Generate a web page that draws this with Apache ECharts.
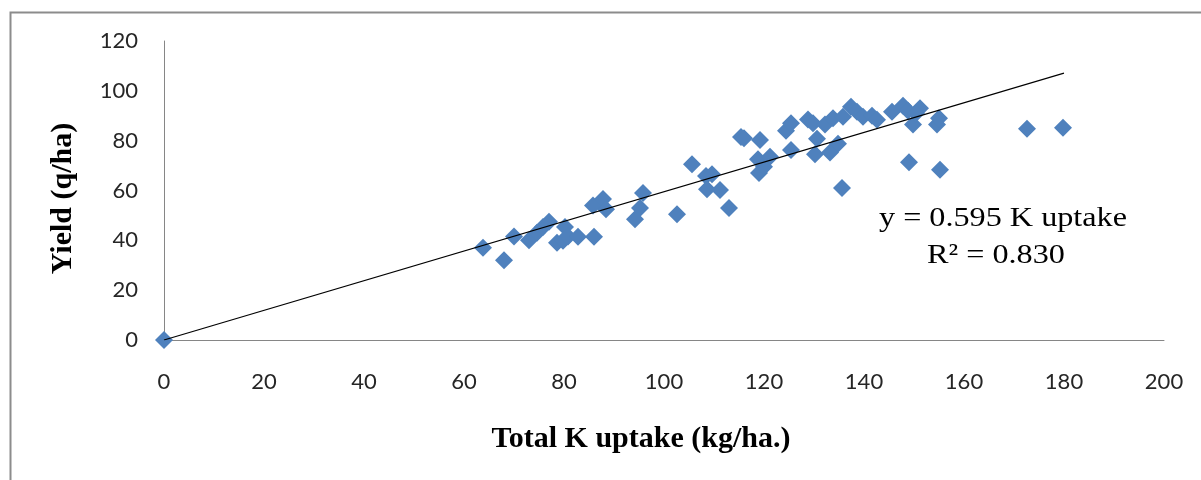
<!DOCTYPE html>
<html>
<head>
<meta charset="utf-8">
<title>Yield vs K uptake</title>
<script src="https://cdn.jsdelivr.net/npm/echarts@6/dist/echarts.min.js"></script>
<style>
  html, body { margin: 0; padding: 0; background: #fff; }
  #chart { width: 1201px; height: 480px; }
</style>
</head>
<body>
<div id="chart"></div>
<script>
  // observed points: [K uptake (kg/ha), yield (q/ha)]
  const kUptake = [
    0, 63.8, 68, 70, 73, 74.6, 75.8, 77, 78.6, 79.8, 80.2, 80.8, 82.8, 86,
    85.8, 87.8, 88.4, 94.2, 95.2, 95.8, 102.6, 105.6, 108.4, 109.6, 108.6, 111.2,
    113, 115.4, 116, 119.2, 118.8, 119, 120, 121.2, 124.4, 125.4, 125.4, 128.8,
    129.8, 130.6, 130.2, 132.2, 133.8, 133.2, 134.8, 135.6, 135.8, 137.4, 138.6,
    139.8, 141.6, 142.6, 145.6, 147.8, 148.8, 149.8, 149, 151.2, 150.4, 154.6,
    155, 155.2, 172.6, 179.8
  ]
  const yieldQ = [
    0, 37, 32, 41.5, 40, 43, 45.4, 47.5, 39, 39.8, 45.4, 41.5, 41.4, 41.4,
    54, 56.6, 52.5, 48.5, 53, 59, 50.5, 70.5, 65.8, 66.5, 60.5, 60.2,
    53, 81.5, 81, 80.3, 72.5, 67, 69.5, 73.5, 84, 87, 76.3, 88.5,
    87, 80.8, 74.5, 86.5, 89, 75.3, 78.8, 61, 89.6, 93.6, 91.6,
    89.6, 90, 88.4, 91.6, 94, 92, 86.5, 71.3, 93, 91, 86.5,
    89, 68.3, 84.8, 85.2
  ]
  // fitted line end points (y = 0.595 x)
  const trendX = [0, 180]
  const trendY = [0, 107.1]
  const xTicks = { min: 0, max: 200, interval: 20 }
  const yTicks = { min: 0, max: 120, interval: 20 }
  const eqLines = ['y = 0.595 K uptake', 'R\u00b2 = 0.830']

  const chart = echarts.init(document.getElementById('chart'))
  const points = kUptake.map((x, i) => [x, yieldQ[i]])
  const trend = trendX.map((x, i) => [x, trendY[i]])

  const tickLabel = {
    color: '#262626',
    fontFamily: 'Lato',
    fontSize: 22
  }
  const titleFont = {
    color: '#000',
    fontFamily: 'Liberation Serif',
    fontWeight: 'bold',
    fontSize: 30
  }

  chart.setOption({
    animation: false,
    grid: {
      left: 164,
      right: 37,
      top: 41,
      bottom: 140
    },
    xAxis: {
      type: 'value',
      min: xTicks.min,
      max: xTicks.max,
      interval: xTicks.interval,
      name: 'Total K uptake (kg/ha.)',
      nameLocation: 'middle',
      nameGap: 84,
      nameTextStyle: Object.assign({ padding: [0, 46, 0, 0] }, titleFont),
      axisLine: { show: true, onZero: false, lineStyle: { color: '#868686', width: 1 } },
      axisTick: { show: false },
      splitLine: { show: false },
      axisLabel: Object.assign({ margin: 31 }, tickLabel)
    },
    yAxis: {
      type: 'value',
      min: yTicks.min,
      max: yTicks.max,
      interval: yTicks.interval,
      name: 'Yield (q/ha)',
      nameLocation: 'middle',
      nameGap: 86,
      nameTextStyle: Object.assign({ padding: [0, 16, 0, 0] }, titleFont),
      axisLine: { show: true, lineStyle: { color: '#868686', width: 1 } },
      axisTick: { show: false },
      splitLine: { show: false },
      axisLabel: Object.assign({ margin: 26 }, tickLabel)
    },
    graphic: [
      {
        type: 'rect',
        left: 8,
        top: 10,
        shape: { width: 1240, height: 520 },
        style: { fill: 'none', stroke: '#8c8c8c', lineWidth: 2 },
        silent: true
      },
      {
        type: 'text',
        x: 1003,
        y: 219,
        scaleX: 1.15,
        style: {
          text: eqLines[0],
          fill: '#000',
          font: '28px "Liberation Serif"',
          textAlign: 'center',
          textVerticalAlign: 'middle'
        }
      },
      {
        type: 'text',
        x: 996,
        y: 256,
        scaleX: 1.15,
        style: {
          text: eqLines[1],
          fill: '#000',
          font: '28px "Liberation Serif"',
          textAlign: 'center',
          textVerticalAlign: 'middle'
        }
      }
    ],
    series: [
      {
        name: 'Yield',
        type: 'scatter',
        symbol: 'diamond',
        symbolSize: 18,
        itemStyle: { color: '#4f81bd', opacity: 1 },
        data: points,
        z: 2
      },
      {
        name: 'Trend',
        type: 'line',
        data: trend,
        symbol: 'none',
        lineStyle: { color: '#000', width: 1.2 },
        z: 3
      }
    ]
  })
</script>
</body>
</html>
